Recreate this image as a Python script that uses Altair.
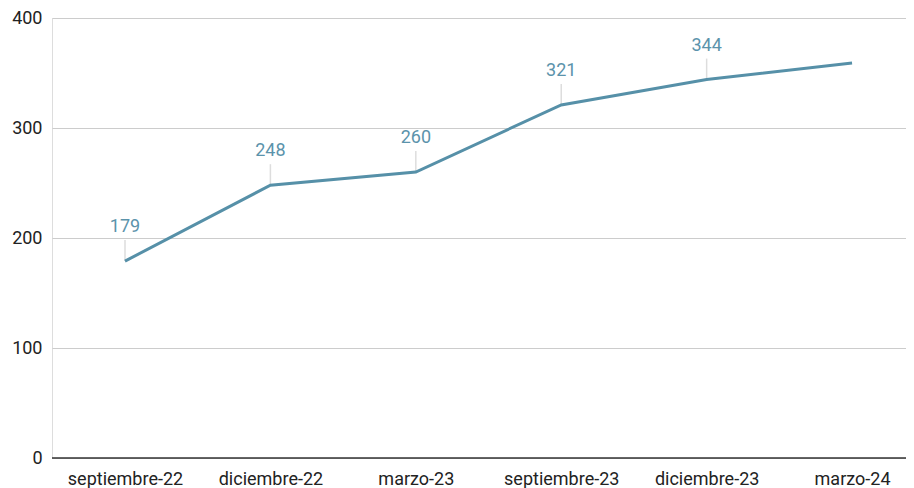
import altair as alt
import pandas as pd

periods = ["septiembre-22", "diciembre-22", "marzo-23", "septiembre-23", "diciembre-23", "marzo-24"]
values = [179, 248, 260, 321, 344, 359]
label_flags = [True, True, True, True, True, False]

df = pd.DataFrame({"idx": list(range(len(periods))), "periodo": periods,
                   "valor": values, "label": label_flags})
lab = df[df["label"]]

FONT = "Roboto"
LINE = "#5690a8"

names_js = "[" + ",".join(f"'{p}'" for p in periods) + "]"
xscale = alt.Scale(domain=[-0.502, 5.371], nice=False, zero=False)
yscale = alt.Scale(domain=[0, 400], nice=False)

x = alt.X("idx:Q", title=None, scale=xscale,
          axis=alt.Axis(values=list(range(len(periods))), labelExpr=f"{names_js}[datum.value]",
                        labelFontSize=18, labelFont=FONT, labelColor="#222",
                        domain=False, ticks=False, labelPadding=12, grid=False,
                        labelFlush=False, labelOverlap=False))
y = alt.Y("valor:Q", title=None, scale=yscale,
          axis=alt.Axis(values=[0, 100, 200, 300, 400], labelFontSize=18, labelFont=FONT,
                        labelColor="#222", domain=False, ticks=False, labelPadding=10,
                        gridColor="#cccccc", gridWidth=1.2))

line = alt.Chart(df).mark_line(color=LINE, strokeWidth=3).encode(x=x, y=y)

zero = alt.Chart(pd.DataFrame({"z": [0]})).mark_rule(color="#333333", strokeWidth=1.5).encode(
    y=alt.Y("z:Q", scale=yscale))

leaders = alt.Chart(lab).mark_rule(color="#dddddd", strokeWidth=1.5, y2Offset=-21).encode(
    x=alt.X("idx:Q", scale=xscale),
    y=alt.Y("valor:Q", scale=yscale),
    y2=alt.Y2("valor:Q"))

texts = alt.Chart(lab).mark_text(color="#5b93ab", fontSize=18, font=FONT, dy=-34).encode(
    x=alt.X("idx:Q", scale=xscale),
    y=alt.Y("valor:Q", scale=yscale),
    text="valor:Q")

chart = alt.layer(leaders, line, zero, texts).properties(
    width=854, height=440,
    autosize=alt.AutoSizeParams(type="none"),
    padding={"left": 44, "top": 10, "right": 0, "bottom": 30},
).configure_view(stroke=None).configure(background="white")

chart.save("out.html", embed_options={"renderer": "svg", "actions": False})
